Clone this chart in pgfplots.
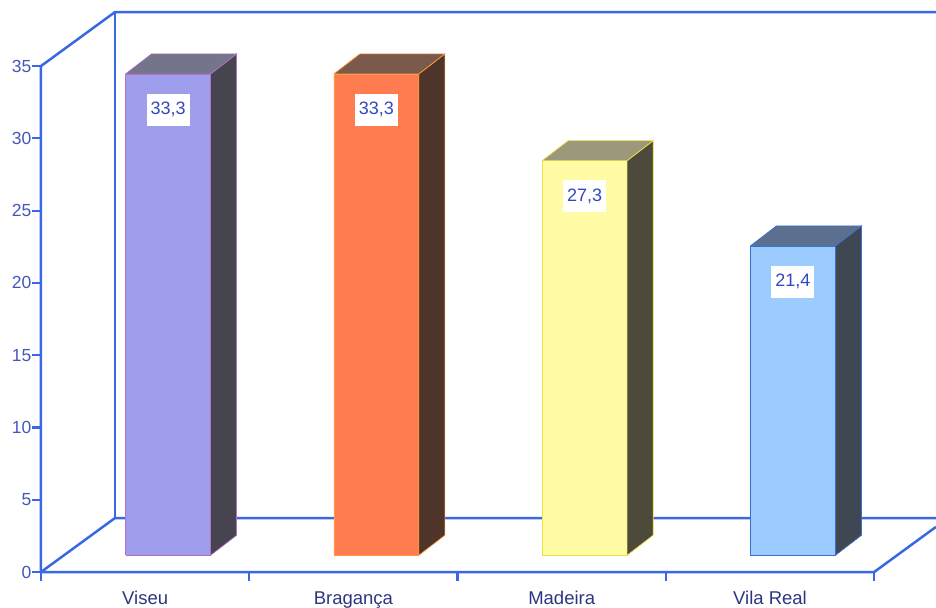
\documentclass[border=0pt]{standalone}
\usepackage{pgfplots}
\pgfplotsset{compat=1.18}
\usepackage{fontspec}
\setmainfont{Liberation Sans}
\definecolor{axblue}{HTML}{3A68E2}
\definecolor{ylab}{HTML}{4458B8}
\definecolor{xlab}{HTML}{2E3580}
\definecolor{vlab}{HTML}{3448C0}
% Viseu
\definecolor{vfront}{HTML}{9E9EEC}
\definecolor{vside}{HTML}{46454F}
\definecolor{vtop}{HTML}{74748A}
\definecolor{vedge}{HTML}{B470C8}
% Braganca
\definecolor{bfront}{HTML}{FF7B50}
\definecolor{bside}{HTML}{4F3529}
\definecolor{btop}{HTML}{7B5A4C}
\definecolor{bedge}{HTML}{FF9A40}
% Madeira
\definecolor{mfront}{HTML}{FFFBA4}
\definecolor{mside}{HTML}{4D4A3C}
\definecolor{mtop}{HTML}{9C987C}
\definecolor{medge}{HTML}{F0E040}
% Vila Real
\definecolor{rfront}{HTML}{9CCBFF}
\definecolor{rside}{HTML}{3F4752}
\definecolor{rtop}{HTML}{5D6F8E}
\definecolor{redge}{HTML}{3A70D0}
% 3D bar: #1 category centre, #2 value, #3 front, #4 side, #5 top, #6 edge
\newcommand{\tdbar}[6]{%
  \pgfmathsetmacro\xl{#1-0.204+0.110}%
  \pgfmathsetmacro\xr{#1+0.204+0.110}%
  \pgfmathsetmacro\xs{\xr+0.125}%
  \pgfmathsetmacro\xls{\xl+0.125}%
  \pgfmathsetmacro\yt{#2+1.158}%
  \pgfmathsetmacro\yts{\yt+1.383}%
  \addplot[fill=#3, draw=#6, line width=0.7pt] coordinates {(\xl,1.158) (\xr,1.158) (\xr,\yt) (\xl,\yt) (\xl,1.158)};
  \addplot[fill=#4, draw=#6, line width=0.7pt] coordinates {(\xr,1.158) (\xs,2.541) (\xs,\yts) (\xr,\yt) (\xr,1.158)};
  \addplot[fill=#5, draw=#6, line width=0.7pt] coordinates {(\xl,\yt) (\xr,\yt) (\xs,\yts) (\xls,\yts) (\xl,\yt)};
}
\begin{document}
\begin{tikzpicture}
\begin{axis}[name=ax,
  x=208.3pt, y=14.457pt,
  xmin=0, xmax=4.297, ymin=0, ymax=39.57,
  clip=false,
  axis x line=bottom, axis y line=left,
  axis line style={draw=none},
  tick align=outside, major tick length=8.5pt,
  tick style={draw=axblue, line width=2.2pt},
  xtick={0,1,2,3,4}, xticklabels={},
  extra x ticks={0.5,1.5,2.5,3.5},
  extra x tick labels={Viseu,Bragança,Madeira,Vila Real},
  extra x tick style={major tick length=0pt,
    xticklabel style={font=\fontsize{18.5}{21}\selectfont, text=xlab, yshift=-16pt}},
  ytick={0,5,...,35},
  /pgf/number format/assume math mode=true,
  yticklabel style={font=\fontsize{17.5}{20}\selectfont, text=ylab, inner sep=1pt},
]
% back wall and floor
\draw[axblue, line width=2.5pt, line join=round] (axis cs:0,0) -- (axis cs:0,35) -- (axis cs:0.3553,38.735) -- (axis cs:4.297,38.735);
\draw[axblue, line width=2.5pt] (axis cs:0.3553,3.735) -- (axis cs:0.3553,38.735);
\draw[axblue, line width=2.5pt, line join=round] (axis cs:4.297,3.735) -- (axis cs:0.3553,3.735) -- (axis cs:0,0) -- (axis cs:4,0) -- (axis cs:4.297,3.123);
% bars
\tdbar{0.5}{33.3}{vfront}{vside}{vtop}{vedge}
\tdbar{1.5}{33.3}{bfront}{bside}{btop}{bedge}
\tdbar{2.5}{27.3}{mfront}{mside}{mtop}{medge}
\tdbar{3.5}{21.4}{rfront}{rside}{rtop}{redge}
% value labels
\addplot[draw=none, point meta=y,
  nodes near coords={\pgfmathprintnumber[fixed,fixed zerofill,precision=1,use comma]{\pgfplotspointmeta}},
  nodes near coords style={anchor=north, fill=white, text=vlab, font=\fontsize{18}{21}\selectfont,
    yshift=-2.7pt, minimum width=43pt, minimum height=32pt, inner sep=2pt}]
  coordinates {(0.61,33.3) (1.61,33.3) (2.61,27.3) (3.61,21.4)};
\end{axis}
\pgfresetboundingbox
\path[use as bounding box] ([xshift=-41pt,yshift=-35pt]ax.south west) rectangle (ax.north east);
\end{tikzpicture}
\end{document}
